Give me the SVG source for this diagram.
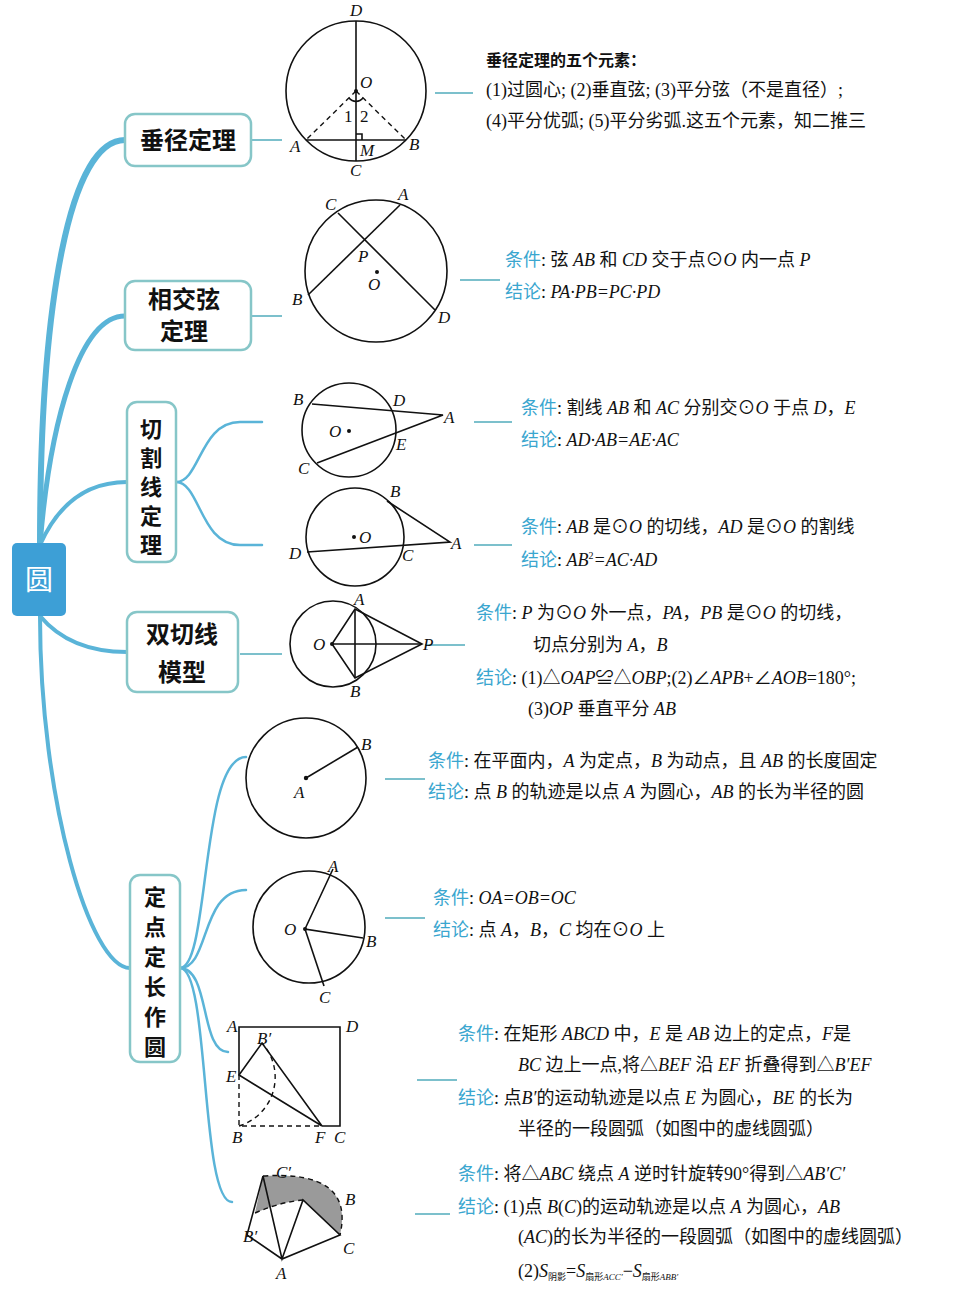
<svg xmlns="http://www.w3.org/2000/svg" width="956" height="1296" viewBox="0 0 956 1296">
<style>
.br{fill:none;stroke:#5ab4d8;stroke-linecap:round}
.cn{fill:none;stroke:#7cc0cc;stroke-width:2}
.bx{fill:#fff;stroke:#86c6c8;stroke-width:2.5}
.nt{font-family:"Noto Sans CJK SC",sans-serif;font-weight:bold;font-size:24px;fill:#111}
.g{fill:none;stroke:#111;stroke-width:1.6}
.d{fill:none;stroke:#111;stroke-width:1.4;stroke-dasharray:5 4}
.lb{font-family:"Liberation Serif",serif;font-style:italic;font-size:17px;fill:#111}
.t{font-family:"Liberation Serif","Noto Sans CJK SC",serif;font-size:18px;fill:#111}
.k{fill:#3aa6cf;font-family:"Noto Sans CJK SC",sans-serif}
.i{font-style:italic}
</style>
<rect width="956" height="1296" fill="#fff"/>
<g id="connectors">
<path class="br" stroke-width="6" d="M40,545 C40,300 70,140 125,140"/>
<path class="br" stroke-width="5" d="M40,545 C50,420 80,316 125,316"/>
<path class="br" stroke-width="4" d="M40,545 C60,500 90,482 127,482"/>
<path class="br" stroke-width="4" d="M40,616 C60,640 90,652 127,652"/>
<path class="br" stroke-width="4" d="M40,616 C40,800 90,968 130,968"/>
<path class="br" stroke-width="2.5" d="M176,482 C200,482 200,422 240,422 L262,422"/>
<path class="br" stroke-width="2.5" d="M176,482 C200,482 200,545 240,545 L262,545"/>
<path class="br" stroke-width="2.5" d="M180,968 C210,968 200,757 246,757"/>
<path class="br" stroke-width="2.5" d="M180,968 C210,968 200,890 246,890"/>
<path class="br" stroke-width="2.5" d="M180,968 C210,968 200,1052 228,1052"/>
<path class="br" stroke-width="2.5" d="M180,968 C210,968 200,1202 232,1202"/>
<line class="cn" x1="251" y1="140" x2="282" y2="140"/>
<line class="cn" x1="251" y1="316" x2="282" y2="316"/>
<line class="cn" x1="240" y1="654" x2="282" y2="654"/>
<line class="cn" x1="435" y1="93" x2="473" y2="93"/>
<line class="cn" x1="460" y1="280" x2="500" y2="280"/>
<line class="cn" x1="474" y1="422" x2="512" y2="422"/>
<line class="cn" x1="474" y1="545" x2="512" y2="545"/>
<line class="cn" x1="425" y1="645" x2="465" y2="645"/>
<line class="cn" x1="385" y1="779" x2="425" y2="779"/>
<line class="cn" x1="385" y1="918" x2="425" y2="918"/>
<line class="cn" x1="417" y1="1080" x2="457" y2="1080"/>
<line class="cn" x1="415" y1="1214" x2="450" y2="1214"/>
</g>
<g id="root"><rect x="12" y="543" width="54" height="73" rx="5" fill="#3d9fd6"/><text x="39" y="590" text-anchor="middle" class="nt" style="fill:#fff;font-size:28px;font-weight:normal">圆</text></g>
<g id="n1"><rect class="bx" x="125" y="114" width="126" height="52" rx="10"/><text class="nt" x="188" y="149" text-anchor="middle">垂径定理</text></g>
<g id="n2"><rect class="bx" x="125" y="281" width="126" height="69" rx="10"/><text class="nt" x="184" y="308" text-anchor="middle">相交弦</text><text class="nt" x="184" y="340" text-anchor="middle">定理</text></g>
<g id="n3"><rect class="bx" x="127" y="402" width="49" height="160" rx="10"/><text class="nt" text-anchor="middle" style="font-size:22px"><tspan x="151" y="437">切</tspan><tspan x="151" y="466">割</tspan><tspan x="151" y="495">线</tspan><tspan x="151" y="524">定</tspan><tspan x="151" y="553">理</tspan></text></g>
<g id="n4"><rect class="bx" x="127" y="612" width="111" height="80" rx="10"/><text class="nt" x="182" y="643" text-anchor="middle">双切线</text><text class="nt" x="182" y="681" text-anchor="middle">模型</text></g>
<g id="n5"><rect class="bx" x="130" y="875" width="50" height="187" rx="10"/><text class="nt" text-anchor="middle" style="font-size:22px"><tspan x="155" y="905">定</tspan><tspan x="155" y="935">点</tspan><tspan x="155" y="965">定</tspan><tspan x="155" y="995">长</tspan><tspan x="155" y="1025">作</tspan><tspan x="155" y="1055">圆</tspan></text></g>

<g id="fig1">
<circle class="g" cx="356" cy="91" r="70"/>
<line class="g" x1="356" y1="21" x2="356" y2="161"/>
<line class="g" x1="306" y1="140" x2="406" y2="140"/>
<line class="d" x1="356" y1="91" x2="306" y2="140"/>
<line class="d" x1="356" y1="91" x2="406" y2="140"/>
<circle cx="356" cy="91" r="2" fill="#111"/>
<path class="g" stroke-width="1" d="M349,98 A9,9 0 0 0 363,98"/>
<path class="g" stroke-width="1" d="M356,134 h6 v6"/>
<text class="lb" x="350" y="16">D</text><text class="lb" x="360" y="88">O</text>
<text class="lb" style="font-style:normal" x="344" y="122">1</text><text class="lb" style="font-style:normal" x="360" y="122">2</text>
<text class="lb" x="290" y="152">A</text><text class="lb" x="409" y="150">B</text>
<text class="lb" x="360" y="156">M</text><text class="lb" x="350" y="176">C</text>
</g>
<g id="fig2">
<circle class="g" cx="376" cy="271" r="71"/>
<line class="g" x1="338" y1="213" x2="435" y2="310"/>
<line class="g" x1="308" y1="295" x2="400" y2="205"/>
<circle cx="377" cy="272" r="2" fill="#111"/>
<text class="lb" x="325" y="210">C</text><text class="lb" x="398" y="200">A</text>
<text class="lb" x="358" y="262">P</text><text class="lb" x="368" y="290">O</text>
<text class="lb" x="292" y="305">B</text><text class="lb" x="438" y="323">D</text>
</g>
<g id="fig3">
<circle class="g" cx="349" cy="430" r="47"/>
<polyline class="g" points="312,404 443,415 317,463"/>
<circle cx="349" cy="431" r="2" fill="#111"/>
<text class="lb" x="293" y="405">B</text><text class="lb" x="393" y="406">D</text>
<text class="lb" x="444" y="423">A</text><text class="lb" x="329" y="437">O</text>
<text class="lb" x="396" y="450">E</text><text class="lb" x="298" y="474">C</text>
</g>
<g id="fig4">
<circle class="g" cx="355" cy="537" r="49"/>
<polyline class="g" points="387,501 450,542 307,552"/>
<circle cx="354" cy="537" r="2" fill="#111"/>
<text class="lb" x="390" y="497">B</text><text class="lb" x="359" y="543">O</text>
<text class="lb" x="451" y="549">A</text><text class="lb" x="289" y="559">D</text>
<text class="lb" x="402" y="561">C</text>
</g>
<g id="fig5">
<circle class="g" cx="333" cy="644" r="43"/>
<polygon class="g" points="355,609 422,644 355,678 332,644"/>
<line class="g" x1="355" y1="609" x2="355" y2="678"/>
<line class="g" x1="332" y1="644" x2="422" y2="644"/>
<circle cx="332" cy="644" r="2" fill="#111"/>
<text class="lb" x="354" y="605">A</text><text class="lb" x="313" y="650">O</text>
<text class="lb" x="423" y="650">P</text><text class="lb" x="350" y="697">B</text>
</g>
<g id="fig6">
<circle class="g" cx="306" cy="778" r="60"/>
<line class="g" x1="306" y1="778" x2="358" y2="747"/>
<circle cx="306" cy="778" r="2.2" fill="#111"/>
<text class="lb" x="361" y="750">B</text><text class="lb" x="294" y="798">A</text>
</g>
<g id="fig7">
<circle class="g" cx="309" cy="927" r="56"/>
<polyline class="g" points="333,869 305,929 363,938"/>
<line class="g" x1="305" y1="929" x2="324" y2="986"/>
<circle cx="305" cy="929" r="2" fill="#111"/>
<text class="lb" x="328" y="872">A</text><text class="lb" x="284" y="935">O</text>
<text class="lb" x="366" y="947">B</text><text class="lb" x="319" y="1003">C</text>
</g>
<g id="fig8">
<polyline class="g" points="239,1075 239,1027 340,1027 340,1126 322,1126"/>
<path class="d" d="M239,1075 V1126 H322"/>
<path class="d" d="M239,1126 A51,51 0 0 0 262,1043"/>
<polyline class="g" points="322,1126 262,1043 239,1075 322,1126"/>
<text class="lb" x="227" y="1032">A</text><text class="lb" x="346" y="1032">D</text>
<text class="lb" x="257" y="1044">B′</text><text class="lb" x="226" y="1082">E</text>
<text class="lb" x="232" y="1143">B</text><text class="lb" x="315" y="1143">F</text><text class="lb" x="334" y="1143">C</text>
</g>
<g id="fig9">
<path d="M263,1176 Q355,1170 340,1235 L303,1200 Q280,1202 255,1213 Z" fill="#9a9a9a"/>
<path class="d" d="M263,1176 Q355,1170 340,1235"/>
<path class="d" d="M255,1213 Q280,1202 303,1200"/>
<polyline class="g" points="263,1176 247,1235 282,1259 340,1235 303,1200 282,1259 263,1176"/>
<text class="lb" x="276" y="1178">C′</text><text class="lb" x="345" y="1205">B</text>
<text class="lb" x="243" y="1242">B′</text><text class="lb" x="343" y="1254">C</text>
<text class="lb" x="276" y="1279">A</text>
</g>

<g id="texts" class="t">
<text x="486" y="66" style="font-family:'Noto Sans CJK SC',sans-serif;font-weight:bold;font-size:16px">垂径定理的五个元素：</text>
<text x="486" y="96">(1)过圆心; (2)垂直弦; (3)平分弦（不是直径）;</text>
<text x="486" y="127">(4)平分优弧; (5)平分劣弧.这五个元素，知二推三</text>
<text x="505" y="266"><tspan class="k">条件</tspan>: 弦 <tspan class="i">AB</tspan> 和 <tspan class="i">CD</tspan> 交于点⊙<tspan class="i">O</tspan> 内一点 <tspan class="i">P</tspan></text>
<text x="505" y="298"><tspan class="k">结论</tspan>: <tspan class="i">PA·PB=PC·PD</tspan></text>
<text x="521" y="414"><tspan class="k">条件</tspan>: 割线 <tspan class="i">AB</tspan> 和 <tspan class="i">AC</tspan> 分别交⊙<tspan class="i">O</tspan> 于点 <tspan class="i">D</tspan>，<tspan class="i">E</tspan></text>
<text x="521" y="446"><tspan class="k">结论</tspan>: <tspan class="i">AD·AB=AE·AC</tspan></text>
<text x="521" y="533"><tspan class="k">条件</tspan>: <tspan class="i">AB</tspan> 是⊙<tspan class="i">O</tspan> 的切线，<tspan class="i">AD</tspan> 是⊙<tspan class="i">O</tspan> 的割线</text>
<text x="521" y="566"><tspan class="k">结论</tspan>: <tspan class="i">AB</tspan><tspan font-size="10" dy="-7">2</tspan><tspan dy="7" class="i">=AC·AD</tspan></text>
<text x="476" y="619"><tspan class="k">条件</tspan>: <tspan class="i">P</tspan> 为⊙<tspan class="i">O</tspan> 外一点，<tspan class="i">PA</tspan>，<tspan class="i">PB</tspan> 是⊙<tspan class="i">O</tspan> 的切线，</text>
<text x="533" y="651">切点分别为 <tspan class="i">A</tspan>，<tspan class="i">B</tspan></text>
<text x="476" y="684"><tspan class="k">结论</tspan>: (1)△<tspan class="i">OAP</tspan>≌△<tspan class="i">OBP</tspan>;(2)∠<tspan class="i">APB</tspan>+∠<tspan class="i">AOB</tspan>=180°;</text>
<text x="528" y="715">(3)<tspan class="i">OP</tspan> 垂直平分 <tspan class="i">AB</tspan></text>
<text x="428" y="767"><tspan class="k">条件</tspan>: 在平面内，<tspan class="i">A</tspan> 为定点，<tspan class="i">B</tspan> 为动点，且 <tspan class="i">AB</tspan> 的长度固定</text>
<text x="428" y="798"><tspan class="k">结论</tspan>: 点 <tspan class="i">B</tspan> 的轨迹是以点 <tspan class="i">A</tspan> 为圆心，<tspan class="i">AB</tspan> 的长为半径的圆</text>
<text x="433" y="904"><tspan class="k">条件</tspan>: <tspan class="i">OA=OB=OC</tspan></text>
<text x="433" y="936"><tspan class="k">结论</tspan>: 点 <tspan class="i">A</tspan>，<tspan class="i">B</tspan>，<tspan class="i">C</tspan> 均在⊙<tspan class="i">O</tspan> 上</text>
<text x="458" y="1040"><tspan class="k">条件</tspan>: 在矩形 <tspan class="i">ABCD</tspan> 中，<tspan class="i">E</tspan> 是 <tspan class="i">AB</tspan> 边上的定点，<tspan class="i">F</tspan>是</text>
<text x="518" y="1071"><tspan class="i">BC</tspan> 边上一点,将△<tspan class="i">BEF</tspan> 沿 <tspan class="i">EF</tspan> 折叠得到△<tspan class="i">B′EF</tspan></text>
<text x="458" y="1104"><tspan class="k">结论</tspan>: 点<tspan class="i">B′</tspan>的运动轨迹是以点 <tspan class="i">E</tspan> 为圆心，<tspan class="i">BE</tspan> 的长为</text>
<text x="518" y="1135">半径的一段圆弧（如图中的虚线圆弧）</text>
<text x="458" y="1180"><tspan class="k">条件</tspan>: 将△<tspan class="i">ABC</tspan> 绕点 <tspan class="i">A</tspan> 逆时针旋转90°得到△<tspan class="i">AB′C′</tspan></text>
<text x="458" y="1213"><tspan class="k">结论</tspan>: (1)点 <tspan class="i">B</tspan>(<tspan class="i">C</tspan>)的运动轨迹是以点 <tspan class="i">A</tspan> 为圆心，<tspan class="i">AB</tspan></text>
<text x="518" y="1243">(<tspan class="i">AC</tspan>)的长为半径的一段圆弧（如图中的虚线圆弧）</text>
<text x="518" y="1277">(2)<tspan class="i">S</tspan><tspan font-size="9" dy="3">阴影</tspan><tspan dy="-3">=</tspan><tspan class="i">S</tspan><tspan font-size="9" dy="3">扇形<tspan class="i">ACC′</tspan></tspan><tspan dy="-3">−</tspan><tspan class="i">S</tspan><tspan font-size="9" dy="3">扇形<tspan class="i">ABB′</tspan></tspan></text>
</g>
</svg>
